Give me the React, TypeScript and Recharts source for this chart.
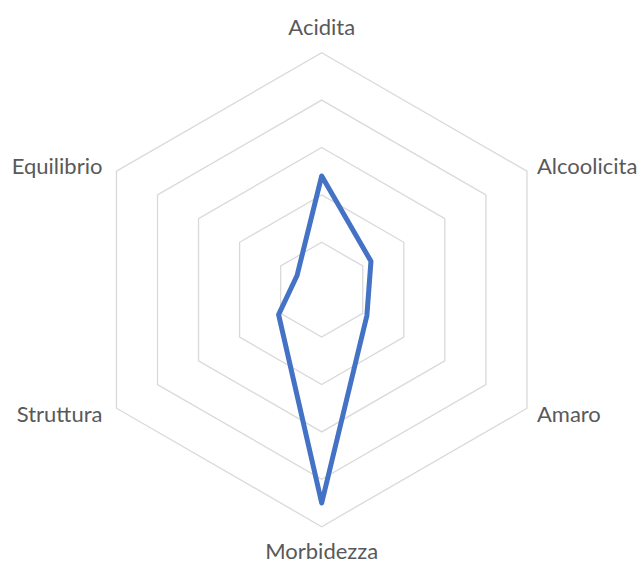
import { PolarAngleAxis, PolarGrid, PolarRadiusAxis, Radar, RadarChart } from 'recharts'

const categories = ['Acidita', 'Alcoolicita', 'Amaro', 'Morbidezza', 'Struttura', 'Equilibrio']
const scores = [2.4, 1.2, 1.1, 4.5, 1.05, 0.6]

const data = categories.map((name, i) => ({ name, score: scores[i] }))

const CX = 321.7
const CY = 289.7
const RADIUS = 237

function AngleTick(props: any) {
  const { payload } = props
  const angle = (payload.coordinate * Math.PI) / 180
  const cos = Math.cos(angle)
  const sin = Math.sin(angle)
  let x = CX + RADIUS * cos
  let y = CY - RADIUS * sin
  let anchor: 'start' | 'middle' | 'end' = cos > 0.1 ? 'start' : cos < -0.1 ? 'end' : 'middle'
  if (anchor === 'middle') {
    x = CX
    y = sin > 0 ? CY - RADIUS - 26 : CY + RADIUS + 24
  } else {
    // labels on the left sit a little further out than those on the right
    x += anchor === 'start' ? 10 : -14
    y += sin > 0 ? -6 : 5
  }
  return (
    <text
      x={x}
      y={y}
      textAnchor={anchor}
      dominantBaseline="central"
      fill="#595959"
      fontSize={22}
      fontFamily="Lato, sans-serif"
    >
      {payload.value}
    </text>
  )
}

export default function App() {
  return (
    <div style={{ position: 'absolute', left: 0, top: 0, background: '#fff' }}>
      <RadarChart
        width={641}
        height={569}
        data={data}
        cx={CX}
        cy={CY}
        outerRadius={RADIUS}
        margin={{ top: 0, right: 0, bottom: 0, left: 0 }}
      >
        <PolarGrid gridType="polygon" radialLines={false} stroke="#d9d9d9" strokeWidth={1.3} />
        <PolarAngleAxis dataKey="name" tick={AngleTick} tickLine={false} axisLine={false} />
        <PolarRadiusAxis domain={[0, 5]} tickCount={6} tick={false} axisLine={false} />
        <Radar
          dataKey="score"
          stroke="#4472C4"
          strokeWidth={5}
          strokeLinejoin="round"
          fill="none"
          fillOpacity={0}
          dot={false}
          isAnimationActive={false}
        />
      </RadarChart>
    </div>
  )
}
